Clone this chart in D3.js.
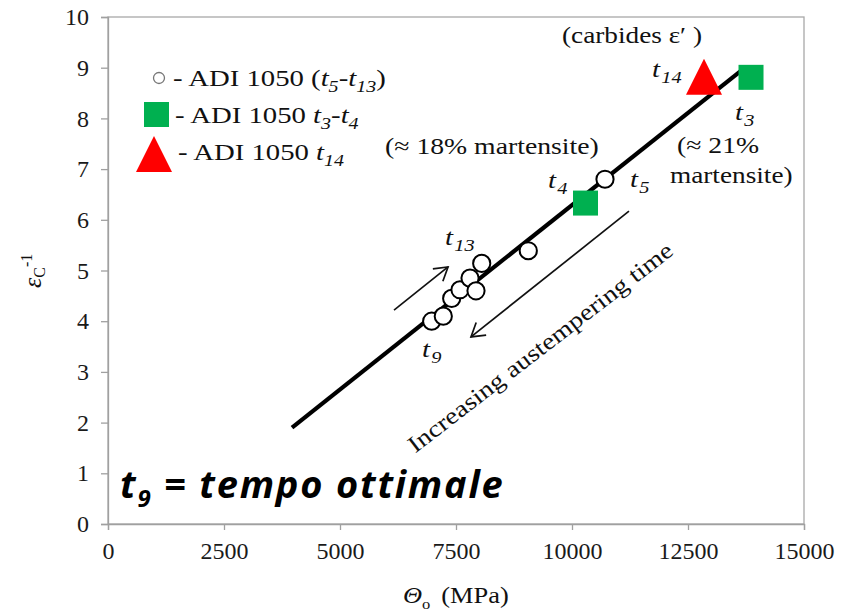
<!DOCTYPE html>
<html>
<head>
<meta charset="utf-8">
<script src="https://cdn.jsdelivr.net/npm/d3@7"></script>
<style>
  body { margin: 0; background: #fff; }
  .big { font-family: "Open Sans", "Liberation Sans", sans-serif; font-weight: 700; font-style: italic; fill: #000; }
</style>
</head>
<body>
<svg id="chart" width="850" height="612"></svg>
<script>
// data
const circleX = [6976, 7226, 7407, 7586, 7802, 7931, 8054, 9058, 10711];
const circleY = [4.0, 4.1, 4.45, 4.62, 4.85, 4.6, 5.14, 5.39, 6.8];
const squareX = [10291, 13858];
const squareY = [6.33, 8.81];
const triangleX = [12845];
const triangleY = [8.82];
const fitX = [3966, 13728];
const fitY = [1.9, 9.0];
const xTicks = [0, 2500, 5000, 7500, 10000, 12500, 15000];
const yTicks = [0, 1, 2, 3, 4, 5, 6, 7, 8, 9, 10];

const serif = '"Liberation Serif", Tinos, serif';

const svg = d3.select('#chart');
const margin = { top: 17, right: 46, bottom: 88, left: 108 };
const width = 850 - margin.left - margin.right;
const height = 612 - margin.top - margin.bottom;

const x = d3.scaleLinear().domain([0, 15000]).range([0, width]);
const y = d3.scaleLinear().domain([0, 10]).range([height, 0]);

const plot = svg.append('g')
  .attr('transform', `translate(${margin.left}, ${margin.top})`);

// frame
plot.append('rect')
  .attr('width', width).attr('height', height)
  .attr('fill', 'none').attr('stroke', '#a8a8a8').attr('stroke-width', 1.3);

const xAxis = d3.axisBottom(x).tickValues(xTicks).tickSize(6).tickPadding(12).tickFormat(d3.format('d'));
const yAxis = d3.axisLeft(y).tickValues(yTicks).tickSize(7).tickPadding(12);

plot.append('g').attr('transform', `translate(0, ${height})`).call(xAxis)
  .attr('font-family', serif).attr('font-size', 24);
plot.append('g').call(yAxis)
  .attr('font-family', serif).attr('font-size', 24);
plot.selectAll('.domain, .tick line').attr('stroke', '#a0a0a0').attr('stroke-width', 1.3);
plot.selectAll('.tick text').attr('fill', '#1a1a1a');

// text helper: serif text, stretched horizontally like the source figure
function stxt(g, px, py, size, sx, rot) {
  return g.append('text')
    .attr('transform', `translate(${px}, ${py})` + (rot ? ` rotate(${rot})` : '') + ` scale(${sx}, 1)`)
    .attr('font-family', serif)
    .attr('font-size', size)
    .attr('fill', '#111');
}

// axis titles
const xt = stxt(svg, 403, 603, 24, 1.1);
xt.append('tspan').style('font-style', 'italic').text('Θ');
xt.append('tspan').attr('dy', 6).attr('font-size', 15).text('o');
xt.append('tspan').attr('dy', -6).attr('dx', 10).text('(MPa)');

const yt = svg.append('text')
  .attr('transform', 'translate(41, 288) rotate(-90)')
  .attr('font-family', serif)
  .attr('font-size', 26).attr('fill', '#111');
yt.append('tspan').style('font-style', 'italic').text('ε');
yt.append('tspan').attr('dy', 4).attr('font-size', 16).text('C');
yt.append('tspan').attr('dy', -13).attr('font-size', 16).text('-1');

// arrow marker
svg.append('defs').append('marker')
  .attr('id', 'vhead')
  .attr('markerUnits', 'userSpaceOnUse')
  .attr('viewBox', '0 0 18 18')
  .attr('markerWidth', 18).attr('markerHeight', 18)
  .attr('refX', 15).attr('refY', 9)
  .attr('orient', 'auto')
  .append('path')
  .attr('d', 'M2,1 L15,9 L2,17')
  .attr('fill', 'none').attr('stroke', '#111').attr('stroke-width', 1.7);

// trend line
const fit = fitX.map((v, i) => ({ x: v, y: fitY[i] }));
plot.append('path')
  .datum(fit)
  .attr('d', d3.line().x(d => x(d.x)).y(d => y(d.y)))
  .attr('stroke', '#000').attr('stroke-width', 4.2).attr('fill', 'none');

// direction arrows
const arrows = [
  [[6164, 4.22], [7328, 5.07]],
  [[11228, 6.17], [7823, 3.69]]
];
plot.selectAll('.arrow')
  .data(arrows)
  .join('line')
  .attr('class', 'arrow')
  .attr('x1', d => x(d[0][0])).attr('y1', d => y(d[0][1]))
  .attr('x2', d => x(d[1][0])).attr('y2', d => y(d[1][1]))
  .attr('stroke', '#111').attr('stroke-width', 1.7)
  .attr('marker-end', 'url(#vhead)');

// circles
const circles = circleX.map((v, i) => ({ x: v, y: circleY[i] }));
plot.selectAll('.pt')
  .data(circles)
  .join('circle')
  .attr('class', 'pt')
  .attr('cx', d => x(d.x)).attr('cy', d => y(d.y))
  .attr('r', 8.6)
  .attr('fill', '#fff').attr('stroke', '#000').attr('stroke-width', 2);

// squares
const squares = squareX.map((v, i) => ({ x: v, y: squareY[i] }));
plot.selectAll('.sq')
  .data(squares)
  .join('rect')
  .attr('class', 'sq')
  .attr('x', d => x(d.x) - 12.5).attr('y', d => y(d.y) - 12.5)
  .attr('width', 25).attr('height', 25)
  .attr('fill', '#00B050');

// triangle
const tris = triangleX.map((v, i) => ({ x: v, y: triangleY[i] }));
plot.selectAll('.tri')
  .data(tris)
  .join('path')
  .attr('class', 'tri')
  .attr('transform', d => `translate(${x(d.x)}, ${y(d.y)})`)
  .attr('d', 'M0,-18 L18,18 L-18,18 Z')
  .attr('fill', '#FF0000');

// t-labels (italic t with subscript)
const pointLabels = [
  { x: 6767, y: 3.30, sub: '9' },
  { x: 7263, y: 5.50, sub: '13' },
  { x: 9483, y: 6.63, sub: '4' },
  { x: 11250, y: 6.65, sub: '5' },
  { x: 11724, y: 8.82, sub: '14' },
  { x: 13513, y: 7.97, sub: '3' }
];
pointLabels.forEach(d => {
  const t = stxt(plot, x(d.x), y(d.y), 24, 1.2).style('font-style', 'italic');
  t.append('tspan').text('t');
  t.append('tspan').attr('dy', 6).attr('dx', 1).attr('font-size', 17).text(d.sub);
});

// notes
stxt(plot, x(11293), y(9.49), 23.5, 1.16).attr('text-anchor', 'middle').text('(carbides ε′ )');
stxt(plot, x(5970), y(7.29), 23.5, 1.18).text('(≈ 18% martensite)');
stxt(plot, x(12263), y(7.32), 23.5, 1.18).text('(≈ 21%');
stxt(plot, x(12112), y(6.72), 23.5, 1.16).text('martensite)');
stxt(plot, x(9310), y(3.49), 23.5, 1.18, -37.6)
  .attr('text-anchor', 'middle').attr('dy', '0.35em')
  .text('Increasing austempering time');

// big caption
const cap = plot.append('text')
  .attr('class', 'big')
  .attr('x', x(259)).attr('y', y(0.51))
  .attr('font-size', 38)
  .style('letter-spacing', '1.8px');
cap.append('tspan').text('t');
cap.append('tspan').attr('dy', 9).attr('font-size', 24).text('9');
cap.append('tspan').attr('dy', -9).text(' = tempo ottimale');

// legend
const legend = svg.append('g');
legend.append('circle')
  .attr('cx', 159).attr('cy', 78).attr('r', 5.5)
  .attr('fill', '#fff').attr('stroke', '#777').attr('stroke-width', 1.3);
legend.append('rect')
  .attr('x', 144).attr('y', 102).attr('width', 25).attr('height', 25)
  .attr('fill', '#00B050');
legend.append('path')
  .attr('transform', 'translate(154, 154)')
  .attr('d', 'M0,-18 L18,18 L-18,18 Z')
  .attr('fill', '#FF0000');

function legendText(px, py, parts) {
  const t = stxt(legend, px, py, 23, 1.25);
  parts.forEach(p => {
    const s = t.append('tspan').text(p.s);
    if (p.it) s.style('font-style', 'italic');
    if (p.sub) s.attr('dy', 6).attr('font-size', 16).style('font-style', 'italic');
    if (p.up) s.attr('dy', -6);
  });
}
legendText(173, 86, [
  { s: '- ADI 1050 (' }, { s: 't', it: true }, { s: '5', sub: true },
  { s: '-', up: true }, { s: 't', it: true }, { s: '13', sub: true }, { s: ')', up: true }
]);
legendText(175, 123, [
  { s: '- ADI 1050 ' }, { s: 't', it: true }, { s: '3', sub: true },
  { s: '-', up: true }, { s: 't', it: true }, { s: '4', sub: true }
]);
legendText(178, 160, [
  { s: '- ADI 1050 ' }, { s: 't', it: true }, { s: '14', sub: true }
]);
</script>
</body>
</html>
